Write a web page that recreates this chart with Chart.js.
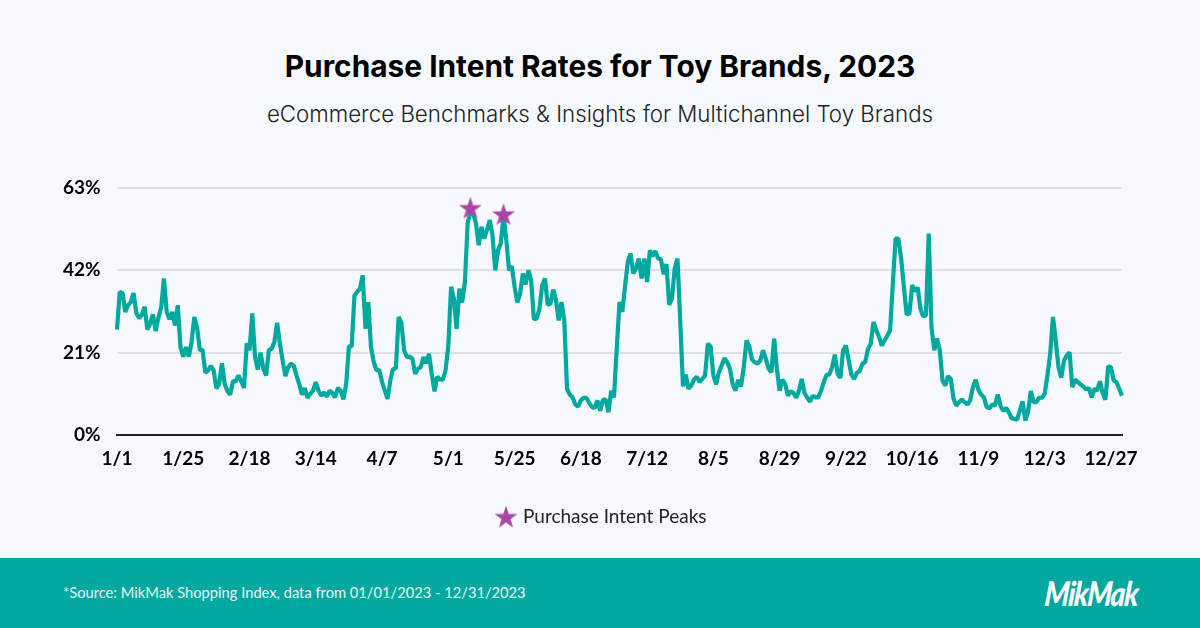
<!DOCTYPE html>
<html lang="en">
<head>
    <meta charset="UTF-8">
    <title>Purchase Intent Rates for Toy Brands, 2023</title>
    <style>
        html, body { margin: 0; padding: 0; }
        body { width: 1200px; height: 628px; overflow: hidden; background: #f6fafe; position: relative; color: #000; }
        h1 { position: absolute; left: 0; width: 1200px; top: 46px; margin: 0; text-align: center; font: 700 29.85px/40px Inter, sans-serif; }
        h2 { position: absolute; left: 0; width: 1200px; top: 99px; margin: 0; text-align: center; font: 300 22.3px/30px Inter, sans-serif; color: #222; }
        #chartBox { position: absolute; left: 0; top: 0; width: 1200px; height: 558px; }
        #footer { position: absolute; left: 0; top: 558px; width: 1200px; height: 70px; background: #00a8a0; color: #eafaf8; }
        #source { position: absolute; left: 63px; top: 24px; font: 400 14.7px/20px Lato, sans-serif; }
        #logo { position: absolute; left: 1045px; top: 15px; font: italic 900 34px/40px Lato, sans-serif; color: #fff; transform-origin: left center; transform: scaleX(0.83) skewX(-6deg); letter-spacing: -1.5px; }
    </style>
</head>
<body>
    <h1>Purchase Intent Rates for Toy Brands, 2023</h1>
    <h2>eCommerce Benchmarks &amp; Insights for Multichannel Toy Brands</h2>
    <div id="chartBox"><canvas id="intentChart"></canvas></div>
    <div id="footer">
        <div id="source">*Source: MikMak Shopping Index, data from 01/01/2023 - 12/31/2023</div>
        <div id="logo">MikMak</div>
    </div>

    <script src="https://cdn.jsdelivr.net/npm/chart.js"></script>
    <script>
        // one value per day of 2023
        var purchaseIntent = [
            26.9,36.5,36.2,31.4,33.1,33.9,36.2,31.1,29.8,30.7,32.7,26.9,28.4,30.8,26.5,30,32.5,39.9,31.4,29.5,
            31.4,28,33.1,22.4,20,22.4,20,23.7,30.1,27.5,21.7,21.7,15.9,16.5,17.6,16.5,11.9,13,18.3,13,
            11.2,10.3,13.7,13.7,15.2,13.7,12,23.4,21.6,31,19.9,16.7,21,16.9,15.2,21.7,22,23.7,28.6,23.3,
            19,15,17.3,18.2,17.7,15.2,13,10.3,12,9.5,10.5,11.3,13.5,11.3,10,10.9,9.8,11.3,10.7,9.6,
            12,11.3,9.1,13,22.6,22.6,35.6,36.5,37.3,40.7,27.1,33.9,22.4,18.6,16.5,16.6,13.5,11.3,9.2,13.9,
            16.9,16.9,30.1,28.6,21.6,19.9,20,19.4,15.6,16.9,17.3,19.9,18.3,20.7,15.6,11.1,14.9,14.1,14.1,16.5,
            22.8,37.8,34.8,27.1,37.3,33.8,39,54,56.9,56.5,54,48.4,53.1,50.1,52.3,54.8,51,42,47.1,48.8,
            56,49.7,42,43.1,37.8,33.8,36,41.2,38.4,42,39.5,29.5,29.7,32.2,38.2,39.9,33.2,33.5,37.1,34.4,
            29.2,33.9,29.2,11.8,10.3,9.6,7.8,7.2,8.8,9.5,9.5,8.2,7.2,6.9,8.8,6.2,9,9,5.8,11.3,
            9.6,22,33.9,31.4,37.8,44.2,46.3,41.2,42.5,45,39.9,45,39,47.1,45.6,46.9,45,44.8,41,43.6,
            33.2,34.8,42.5,45,29.2,12.4,15.4,11.8,12.6,14.1,14.9,13.5,14.3,15.2,23.3,22.6,15.2,12.9,16,17.7,
            19.6,18.6,16.9,13,11.3,14.1,12.4,17.3,24.1,22.6,19.2,18.6,18.2,19,21.6,19.4,16.9,16,24.6,16.9,
            11.3,14.1,13,10,11.2,10.7,9.5,11.3,14.3,10.7,9.5,8.5,10,9.6,9.6,11.3,13.5,15.4,15.4,17.3,
            20.5,15.6,14.6,21.6,22.8,19,15.4,14.3,15.9,16.3,18.2,18.6,22,23.3,28.8,26.7,25,22.8,24.1,25.4,
            26.7,38.6,50.1,50.1,45,37.8,30.8,31,38.2,36.7,37.6,32.2,30.3,30.5,51.4,27.5,21.6,24.6,21.6,13.9,
            12.6,15,14.3,9.2,7.5,8.4,9,8.4,7.8,8.8,12.2,14.1,11.5,10.3,9.6,7.1,6.8,7.8,7.5,10.3,
            7.5,6.1,6.9,5.8,4.3,4.1,3.9,6.2,8.6,3.7,6.1,11.2,8.4,8.4,9.5,9.5,10.5,15.2,20.7,30.1,
            24.1,17.3,14.6,19,20.3,21.1,12.2,14.1,13.5,12.9,12.4,11.6,12,9.6,11.8,11.3,13.7,10.7,9,17.5,
            17.3,13.9,13.5,11.8,10
        ];
        var peakDates = ['5/9', '5/21'];
        var peakValues = [58, 56.4];
        var xTickLabels = ['1/1', '1/25', '2/18', '3/14', '4/7', '5/1', '5/25', '6/18', '7/12', '8/5', '8/29', '9/22', '10/16', '11/9', '12/3', '12/27'];
        var yTickValues = [0, 21, 42, 63];

        var days = [];
        for (var i = 0; i < purchaseIntent.length; i++) {
            var d = new Date(2023, 0, 1 + i);
            days.push((d.getMonth() + 1) + '/' + d.getDate());
        }

        // filled five point star, the built-in 'star' style is only strokes
        function makeStar(size, color) {
            var c = document.createElement('canvas');
            c.width = size;
            c.height = size;
            var g = c.getContext('2d');
            var r = size / 2;
            g.fillStyle = color;
            g.beginPath();
            for (var k = 0; k < 10; k++) {
                var rad = k % 2 ? r * 0.39 : r;
                var a = -Math.PI / 2 + k * Math.PI / 5;
                g.lineTo(r + rad * Math.cos(a), r + 1.2 + rad * Math.sin(a));
            }
            g.closePath();
            g.fill();
            return c;
        }
        var star = makeStar(24, '#ad45a9');

        var ctx = document.getElementById('intentChart').getContext('2d');
        var chart = new Chart(ctx, {
            type: 'line',
            data: {
                labels: days,
                datasets: [{
                    label: 'Purchase Intent Rate',
                    data: purchaseIntent,
                    borderColor: '#00a8a0',
                    borderWidth: 4.2,
                    borderJoinStyle: 'bevel',
                    tension: 0,
                    pointRadius: 0,
                    order: 2
                }, {
                    label: 'Purchase Intent Peaks',
                    data: peakDates.map(function (day, n) { return { x: day, y: peakValues[n] }; }),
                    showLine: false,
                    pointStyle: star,
                    pointRadius: 11,
                    order: 1
                }]
            },
            options: {
                responsive: true,
                maintainAspectRatio: false,
                animation: false,
                // left padding balances the right one so the legend sits on the page centre
                layout: { padding: { top: 188, right: 78, bottom: 22, left: 83 } },
                plugins: {
                    tooltip: { enabled: false },
                    legend: {
                        position: 'bottom',
                        labels: {
                            usePointStyle: true,
                            pointStyleWidth: 15,
                            color: '#222',
                            font: { family: 'Lato', size: 19 },
                            filter: function (item) { return item.datasetIndex === 1; }
                        }
                    }
                },
                scales: {
                    x: {
                        type: 'category',
                        offset: false,
                        afterFit: function (scale) { scale.height = 62; },
                        grid: { display: false },
                        border: { color: '#222', width: 2 },
                        ticks: {
                            autoSkip: false,
                            maxRotation: 0,
                            padding: 4,
                            color: '#000',
                            font: { family: 'Lato', size: 19, weight: 'bold' },
                            callback: function (value, index) {
                                return index % 24 === 0 ? xTickLabels[index / 24] : '';
                            }
                        }
                    },
                    y: {
                        min: 0,
                        max: 63,
                        afterFit: function (scale) { scale.width = 34; },
                        afterBuildTicks: function (scale) {
                            scale.ticks = yTickValues.map(function (v) { return { value: v }; });
                        },
                        grid: { color: '#dde1e6', lineWidth: 2, drawTicks: false },
                        border: { display: false },
                        ticks: {
                            // mirror keeps the labels from being clipped to the narrow scale box
                            mirror: true,
                            crossAlign: 'far',
                            padding: -54,
                            color: '#000',
                            font: { family: 'Lato', size: 19, weight: 'bold' },
                            callback: function (value) { return value + '%'; }
                        }
                    }
                }
            }
        });
    </script>
</body>
</html>
